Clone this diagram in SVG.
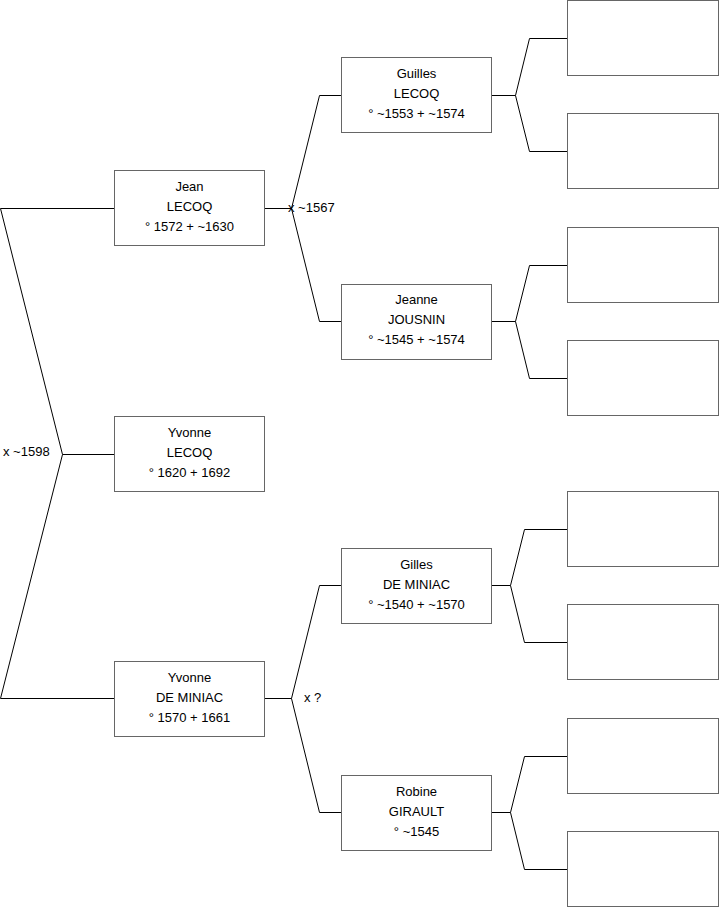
<svg xmlns="http://www.w3.org/2000/svg" width="719" height="908" viewBox="0 0 719 908">
<style>
.box{fill:#fff;stroke:#666;stroke-width:1}
.ln{fill:none;stroke:#000;stroke-width:1}
text{font-family:"Liberation Sans",Arial,sans-serif;font-size:13px;fill:#000}
.c{text-anchor:middle}
</style>
<rect width="719" height="908" fill="#fff"/>
<g id="connectors">
<polyline class="ln" points="114,208.5 0.5,208.5 62.5,454.5 0.5,698.5 114,698.5"/>
<line class="ln" x1="62.5" y1="454.5" x2="114" y2="454.5"/>
<polyline class="ln" points="341,95.5 319.5,95.5 291.5,208.5 319.5,321.5 341,321.5"/>
<line class="ln" x1="265" y1="208.5" x2="291.5" y2="208.5"/>
<polyline class="ln" points="341,585.5 319.5,585.5 291.5,698.5 319.5,812.5 341,812.5"/>
<line class="ln" x1="265" y1="698.5" x2="291.5" y2="698.5"/>
<polyline class="ln" points="567,38.5 529.5,38.5 515.5,95.5 529.5,151.5 567,151.5"/>
<line class="ln" x1="492" y1="95.5" x2="515.5" y2="95.5"/>
<polyline class="ln" points="567,265.5 529.5,265.5 515.5,321.5 529.5,378.5 567,378.5"/>
<line class="ln" x1="492" y1="321.5" x2="515.5" y2="321.5"/>
<polyline class="ln" points="567,529.5 524.5,529.5 510.5,585.5 524.5,642.5 567,642.5"/>
<line class="ln" x1="492" y1="585.5" x2="510.5" y2="585.5"/>
<polyline class="ln" points="567,756.5 524.5,756.5 510.5,812.5 524.5,869.5 567,869.5"/>
<line class="ln" x1="492" y1="812.5" x2="510.5" y2="812.5"/>
<text x="3" y="456">x ~1598</text>
<text x="288" y="212">x ~1567</text>
<text x="304" y="702">x ?</text>
</g>
<g id="jean"><rect class="box" x="114.5" y="170.5" width="150" height="75"/>
<text class="c" x="189.5" y="191">Jean</text><text class="c" x="189.5" y="211">LECOQ</text><text class="c" x="189.5" y="231">° 1572 + ~1630</text></g>
<g id="yvonne-lecoq"><rect class="box" x="114.5" y="416.5" width="150" height="75"/>
<text class="c" x="189.5" y="437">Yvonne</text><text class="c" x="189.5" y="457">LECOQ</text><text class="c" x="189.5" y="477">° 1620 + 1692</text></g>
<g id="yvonne-deminiac"><rect class="box" x="114.5" y="661.5" width="150" height="75"/>
<text class="c" x="189.5" y="682">Yvonne</text><text class="c" x="189.5" y="702">DE MINIAC</text><text class="c" x="189.5" y="722">° 1570 + 1661</text></g>
<g id="guilles"><rect class="box" x="341.5" y="57.5" width="150" height="75"/>
<text class="c" x="416.5" y="78">Guilles</text><text class="c" x="416.5" y="98">LECOQ</text><text class="c" x="416.5" y="118">° ~1553 + ~1574</text></g>
<g id="jeanne"><rect class="box" x="341.5" y="284.5" width="150" height="75"/>
<text class="c" x="416.5" y="304">Jeanne</text><text class="c" x="416.5" y="324">JOUSNIN</text><text class="c" x="416.5" y="344">° ~1545 + ~1574</text></g>
<g id="gilles"><rect class="box" x="341.5" y="548.5" width="150" height="75"/>
<text class="c" x="416.5" y="569">Gilles</text><text class="c" x="416.5" y="589">DE MINIAC</text><text class="c" x="416.5" y="609">° ~1540 + ~1570</text></g>
<g id="robine"><rect class="box" x="341.5" y="775.5" width="150" height="75"/>
<text class="c" x="416.5" y="796">Robine</text><text class="c" x="416.5" y="816">GIRAULT</text><text class="c" x="416.5" y="836">° ~1545</text></g>
<g id="g3-1"><rect class="box" x="567.5" y="0.5" width="151" height="75"/></g>
<g id="g3-2"><rect class="box" x="567.5" y="113.5" width="151" height="75"/></g>
<g id="g3-3"><rect class="box" x="567.5" y="227.5" width="151" height="75"/></g>
<g id="g3-4"><rect class="box" x="567.5" y="340.5" width="151" height="75"/></g>
<g id="g3-5"><rect class="box" x="567.5" y="491.5" width="151" height="75"/></g>
<g id="g3-6"><rect class="box" x="567.5" y="604.5" width="151" height="75"/></g>
<g id="g3-7"><rect class="box" x="567.5" y="718.5" width="151" height="75"/></g>
<g id="g3-8"><rect class="box" x="567.5" y="831.5" width="151" height="75"/></g>
</svg>
